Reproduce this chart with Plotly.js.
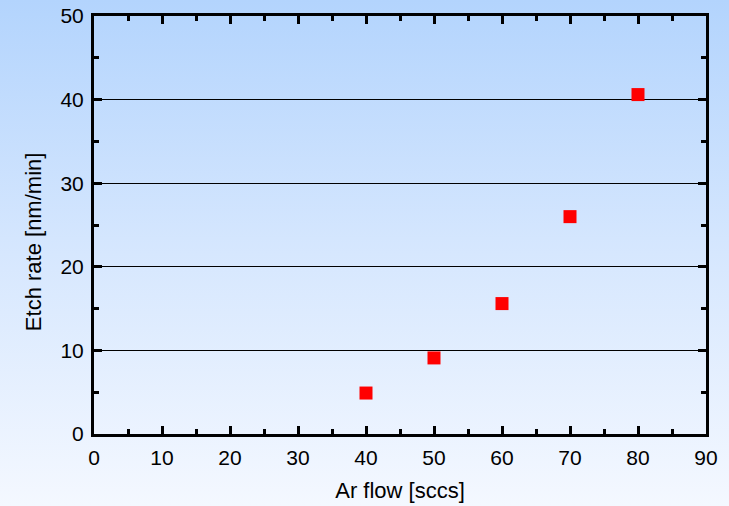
<!DOCTYPE html>
<html><head><meta charset="utf-8">
<script src="https://cdn.plot.ly/plotly-3.0.1.min.js"></script>
<style>
html,body{margin:0;padding:0;}
body{width:729px;height:506px;background:linear-gradient(to bottom,#b3d4fd 0%,#d6e7fe 50%,#f4f8ff 100%);}
#chart{width:729px;height:506px;}
</style></head>
<body><div id="chart"></div>
<script>
const arFlow = [40, 50, 60, 70, 80];
const etchRate = [4.9, 9.1, 15.6, 26.0, 40.6];
const xTitle = 'Ar flow [sccs]';
const yTitle = 'Etch rate [nm/min]';

const FONT = 'Liberation Sans, Arial, sans-serif';
const axisCommon = {
  showline: true, linecolor: '#000', linewidth: 3, mirror: 'ticks',
  ticks: 'inside', ticklen: 8, tickwidth: 3, tickcolor: '#000',
  zeroline: false, dtick: 10, ticklabelstandoff: 3,
  tickfont: {family: FONT, size: 21, color: '#000'},
  minor: {ticks: 'inside', ticklen: 5, tickwidth: 3, tickcolor: '#000', dtick: 5, showgrid: false}
};

Plotly.newPlot('chart', [{
  x: arFlow, y: etchRate, type: 'scatter', mode: 'markers',
  marker: {symbol: 'square', size: 13, color: '#ff0000', line: {width: 0}}
}], {
  width: 729, height: 506,
  margin: {l: 94, r: 23, t: 16, b: 72},
  paper_bgcolor: 'rgba(0,0,0,0)', plot_bgcolor: 'rgba(0,0,0,0)',
  showlegend: false,
  xaxis: Object.assign({}, axisCommon, {
    range: [0, 90], showgrid: false,
    title: {text: xTitle, font: {family: FONT, size: 22, color: '#000'}, standoff: 15}
  }),
  yaxis: Object.assign({}, axisCommon, {
    range: [0, 50], showgrid: true, gridcolor: '#000', gridwidth: 1
  }),
  annotations: [{
    text: yTitle, textangle: -90, showarrow: false,
    xref: 'paper', yref: 'paper', x: -0.099, y: 0.46,
    xanchor: 'center', yanchor: 'middle',
    font: {family: FONT, size: 22, color: '#000'}
  }]
}, {displayModeBar: false, staticPlot: true});
</script></body></html>
